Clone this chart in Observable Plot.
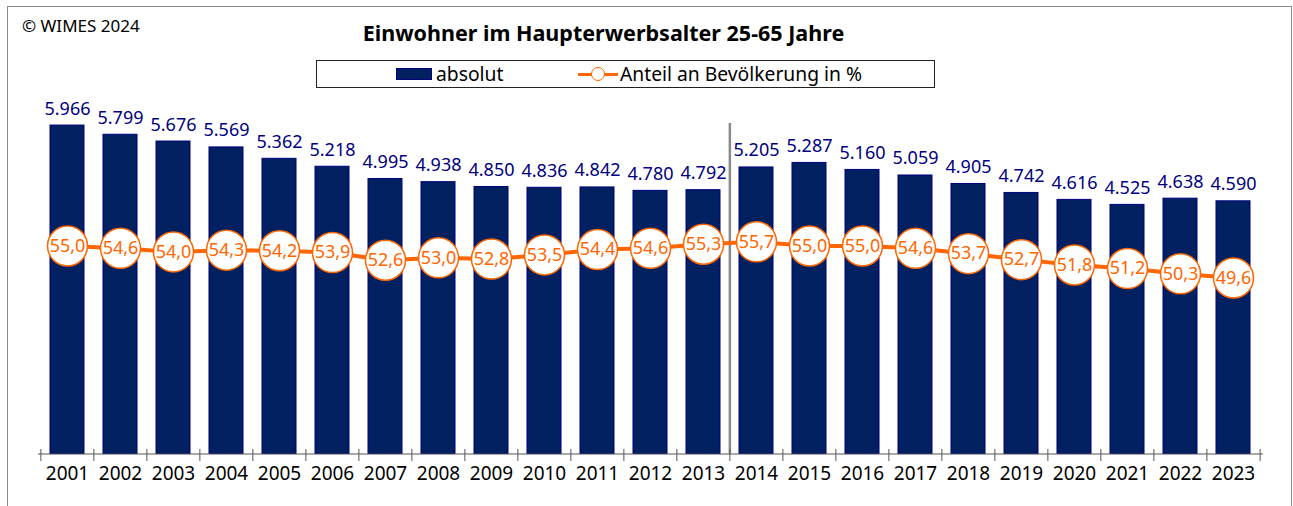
<!DOCTYPE html>
<html>
<head>
<meta charset="utf-8">
<script src="https://cdn.jsdelivr.net/npm/d3@7"></script>
<script src="https://cdn.jsdelivr.net/npm/@observablehq/plot@0.6"></script>
<style>
html,body{margin:0;padding:0;background:#fff;overflow:hidden;}
body{width:1293px;height:506px;font-family:"Noto Sans",sans-serif;position:relative;}
#frame{position:absolute;left:7px;top:6px;width:1285px;height:520px;border:1px solid #8c8c8c;box-sizing:border-box;pointer-events:none;z-index:5;}
#header{position:relative;height:95px;width:1293px;}
#copy{position:absolute;left:22px;top:15px;font-size:17px;line-height:22px;color:#000;white-space:nowrap;}
#title{position:absolute;left:0;top:20px;width:1207px;text-align:center;font-size:21.5px;font-weight:bold;line-height:26px;color:#000;white-space:nowrap;}
#legbox{position:absolute;left:316px;top:60px;width:619px;height:28px;border:1px solid #222;box-sizing:border-box;}
#sw{position:absolute;left:396px;top:68px;width:36px;height:12px;background:#002060;border:1px solid #000080;box-sizing:border-box;}
.lt{position:absolute;top:61.5px;font-size:19.3px;line-height:24px;color:#000;white-space:nowrap;}
#ll{position:absolute;left:578px;top:72.5px;width:40px;height:3px;background:#FF6600;}
#lc{position:absolute;left:591px;top:67px;width:14px;height:14px;border-radius:50%;border:1.5px solid #FF6600;background:#fff;box-sizing:border-box;}
#chart{position:relative;width:1293px;height:411px;}
#chart svg{position:absolute;left:0;top:0;}
</style>
</head>
<body>
<div id="frame"></div>
<div id="header">
  <div id="copy">© WIMES 2024</div>
  <div id="title">Einwohner im Haupterwerbsalter 25-65 Jahre</div>
  <div id="legbox"></div>
  <div id="sw"></div>
  <div class="lt" style="left:436px">absolut</div>
  <div id="ll"></div>
  <div id="lc"></div>
  <div class="lt" style="left:620px">Anteil an Bevölkerung in %</div>
</div>
<div id="chart"></div>
<script>
const years = ["2001","2002","2003","2004","2005","2006","2007","2008","2009","2010","2011","2012","2013","2014","2015","2016","2017","2018","2019","2020","2021","2022","2023"];
const absolut = [5966,5799,5676,5569,5362,5218,4995,4938,4850,4836,4842,4780,4792,5205,5287,5160,5059,4905,4742,4616,4525,4638,4590];
const anteil = [55.0,54.6,54.0,54.3,54.2,53.9,52.6,53.0,52.8,53.5,54.4,54.6,55.3,55.7,55.0,55.0,54.6,53.7,52.7,51.8,51.2,50.3,49.6];
const separatorYear = "2014";

const data = years.map((y, i) => ({year: y, abs: absolut[i], pct: anteil[i]}));
const de = d3.formatLocale({decimal: ",", thousands: ".", grouping: [3], currency: ["", " €"]});
const fmtAbs = de.format(",d");
const fmtPct = de.format(",.1f");

const W = 1293, H = 411, ML = 38, MR = 30, MT = 0, MB = 52.5;
const step = (W - ML - MR) / years.length;
const xOpts = {type: "band", domain: years, paddingInner: 0.35, paddingOuter: 0.175};
const style = {fontFamily: "Noto Sans", fontSize: "18px", background: "transparent", overflow: "visible"};

const bars = Plot.plot({
  width: W, height: H, marginLeft: ML, marginRight: MR, marginTop: MT, marginBottom: MB,
  style,
  x: xOpts,
  y: {domain: [0, 6512], axis: null},
  marks: [
    Plot.barY(data, {x: "year", y: "abs", fill: "#002060", stroke: "#000080", strokeWidth: 1}),
    Plot.text(data, {x: "year", y: "abs", text: d => fmtAbs(d.abs), fill: "#000080", fontSize: 18, lineAnchor: "bottom", dy: -11}),
    Plot.ruleX([separatorYear], {x: d => d, dx: -step / 2, insetTop: 28, stroke: "#8a8a8a", strokeWidth: 2.5}),
    Plot.ruleY([0], {stroke: "#555"}),
    Plot.ruleX(years, {x: d => d, dx: -step / 2, insetTop: 354, insetBottom: -7.5, stroke: "#555"}),
    Plot.ruleX([years[years.length - 1]], {x: d => d, dx: step / 2, insetTop: 354, insetBottom: -7.5, stroke: "#555"}),
    Plot.axisX({tickSize: 0, tickPadding: 12, fontSize: 19, fill: "#000", label: null})
  ]
});

const line = Plot.plot({
  width: W, height: H, marginLeft: ML, marginRight: MR, marginTop: MT, marginBottom: MB,
  style,
  x: {...xOpts, axis: null},
  y: {domain: [19.92, 80.38], axis: null},
  marks: [
    Plot.line(data, {x: "year", y: "pct", stroke: "#FF6600", strokeWidth: 4}),
    Plot.dot(data, {x: "year", y: "pct", r: 20, fill: "#fff", stroke: "#FF6600", strokeWidth: 1.5}),
    Plot.text(data, {x: "year", y: "pct", text: d => fmtPct(d.pct), fill: "#FF6600", fontSize: 18})
  ]
});

const chart = document.getElementById("chart");
chart.appendChild(bars);
chart.appendChild(line);
</script>
</body>
</html>
